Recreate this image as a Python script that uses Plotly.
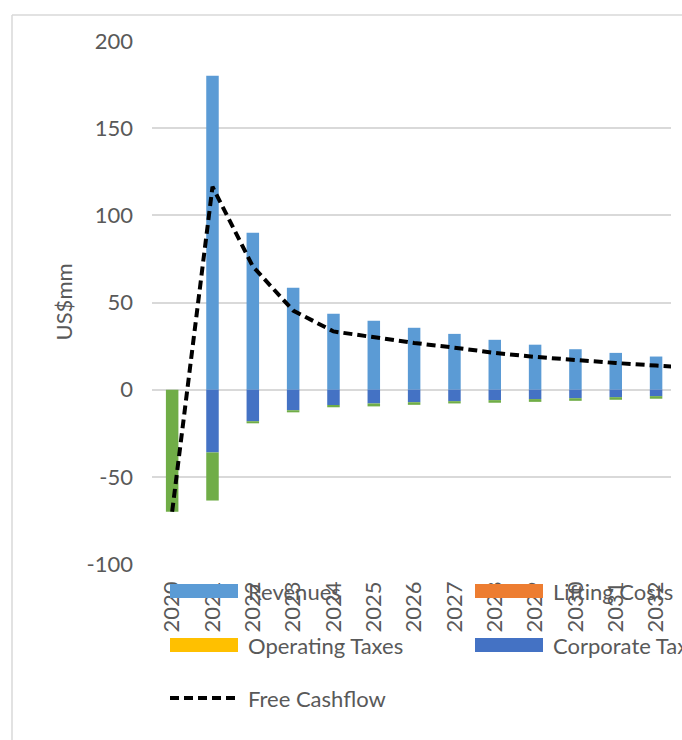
import plotly.graph_objects as go

# Annual cash-flow components (US$mm)
years = ["2020", "2021", "2022", "2023", "2024", "2025", "2026",
         "2027", "2028", "2029", "2030", "2031", "2032", "2033"]
revenues = [0, 180, 90, 58.4, 43.5, 39.5, 35.5, 32, 28.6, 25.8, 23.2, 21.1, 19, 17.2]
lifting_costs = [0] * len(years)
operating_taxes = [0] * len(years)
corporate_taxes = [0, -36, -18.1, -11.8, -8.8, -7.9, -7.2, -6.6, -6.0, -5.4, -4.9, -4.3, -3.7, -3.3]
capex = [-70, -27.6, -1.2, -1.2, -1.3, -1.7, -1.5, -1.3, -1.5, -1.6, -1.5, -1.5, -1.5, -1.4]
free_cashflow = [-70, 116.4, 70.7, 45.4, 33.4, 29.9, 26.8, 24.1, 21.1, 18.8, 16.8, 15.3, 13.8, 12.5]

y_ticks = [-100, -50, 0, 50, 100, 150, 200]

C_REV = "#5B9BD5"
C_LIFT = "#ED7D31"
C_OPTAX = "#FFC000"
C_CORP = "#4472C4"
C_CAPEX = "#70AD47"
TXT = "#595959"
GRID = "#D9D9D9"
FONT = "Lato"
FS = 22
DASH = "9px,5px"

W, H = 682, 740
L, R, T, B = 152, 11, 41, 176
PW, PH = W - L - R, H - T - B


def px(x):
    return (x - L) / PW


def py(y):
    return (H - B - y) / PH


fig = go.Figure()
fig.add_bar(x=years, y=revenues, name="Revenues", marker_color=C_REV)
fig.add_bar(x=years, y=lifting_costs, name="Lifting Costs", marker_color=C_LIFT)
fig.add_bar(x=years, y=operating_taxes, name="Operating Taxes", marker_color=C_OPTAX)
fig.add_bar(x=years, y=corporate_taxes, name="Corporate Taxes", marker_color=C_CORP)
fig.add_bar(x=years, y=capex, name="Capex", marker_color=C_CAPEX)
fig.add_scatter(x=years, y=free_cashflow, name="Free Cashflow", mode="lines",
                line=dict(color="black", width=4, dash=DASH))

fig.update_traces(marker_line_width=0, selector=dict(type="bar"))

# Legend drawn as a two-column block under the plot
legend_rows = [
    [("Revenues", C_REV, "bar"), ("Lifting Costs", C_LIFT, "bar")],
    [("Operating Taxes", C_OPTAX, "bar"), ("Corporate Taxes", C_CORP, "bar")],
    [("Free Cashflow", "black", "line")],
]
row_y = [591, 645, 698]
col_x = [170, 475]
shapes = []
annotations = []
for r, row in enumerate(legend_rows):
    for c, (label, color, kind) in enumerate(row):
        x0 = col_x[c]
        yc = row_y[r]
        if kind == "bar":
            shapes.append(dict(type="rect", xref="paper", yref="paper",
                               x0=px(x0), x1=px(x0 + 68), y0=py(yc + 7), y1=py(yc - 7),
                               fillcolor=color, line=dict(width=0), layer="above"))
        else:
            shapes.append(dict(type="line", xref="paper", yref="paper",
                               x0=px(x0), x1=px(x0 + 70), y0=py(yc), y1=py(yc),
                               line=dict(color=color, width=4, dash=DASH),
                               layer="above"))
        annotations.append(dict(text=label, xref="paper", yref="paper",
                                x=px(x0 + 76), y=py(yc), xanchor="left", yanchor="middle",
                                showarrow=False, font=dict(family=FONT, size=FS, color=TXT)))

# Chart-area border (top and left edges)
shapes.append(dict(type="line", xref="paper", yref="paper", x0=px(12), x1=px(W),
                   y0=py(15), y1=py(15), line=dict(color=GRID, width=1.5)))
shapes.append(dict(type="line", xref="paper", yref="paper", x0=px(12), x1=px(12),
                   y0=py(15), y1=py(H), line=dict(color=GRID, width=1.5)))

# Y-axis title
annotations.append(dict(text="US$mm", xref="paper", yref="paper", x=px(63), y=0.5,
                        xanchor="center", yanchor="middle", textangle=-90, showarrow=False,
                        font=dict(family=FONT, size=FS, color=TXT)))

fig.update_layout(
    width=W, height=H,
    margin=dict(l=L, r=R, t=T, b=B, pad=0),
    barmode="relative",
    bargap=0.69,
    showlegend=False,
    plot_bgcolor="white",
    paper_bgcolor="white",
    font=dict(family=FONT, size=FS, color=TXT),
    shapes=shapes,
    annotations=annotations,
    xaxis=dict(type="category", range=[-0.5, 12.37], tickangle=-90, showgrid=False,
               showline=False, ticks="", ticklabelstandoff=12,
               tickfont=dict(family=FONT, size=FS, color=TXT)),
    yaxis=dict(range=[-100, 200], tickmode="array", tickvals=y_ticks,
               ticktext=[str(v) for v in y_ticks], showgrid=True, gridcolor=GRID,
               gridwidth=1.5, zeroline=False, showline=False, ticks="",
               ticklabelstandoff=18, tickfont=dict(family=FONT, size=FS, color=TXT)),
)

fig.write_html("out.html")
